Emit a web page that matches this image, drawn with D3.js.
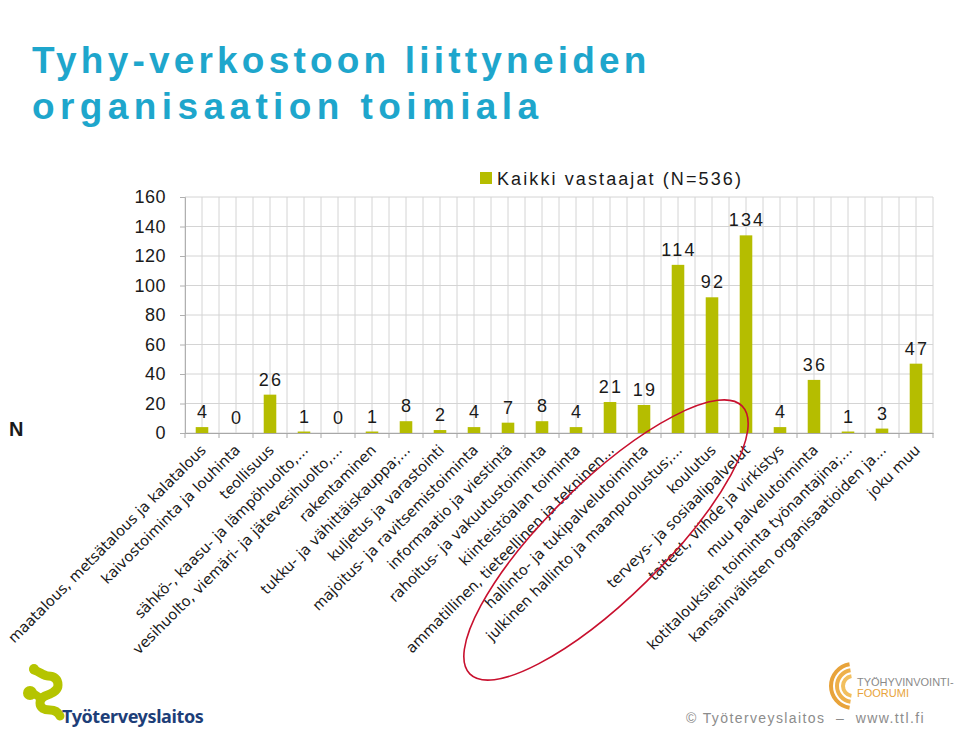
<!DOCTYPE html>
<html>
<head>
<meta charset="utf-8">
<script src="https://cdn.jsdelivr.net/npm/d3@7/dist/d3.min.js"></script>
<style>
  html, body { margin: 0; padding: 0; background: #ffffff; }
  svg { display: block; }
</style>
</head>
<body>
<svg id="chart" width="960" height="730"></svg>
<script>
const categories = [
  "maatalous, metsätalous ja kalatalous",
  "kaivostoiminta ja louhinta",
  "teollisuus",
  "sähkö-, kaasu- ja lämpöhuolto,...",
  "vesihuolto, viemäri- ja jätevesihuolto,...",
  "rakentaminen",
  "tukku- ja vähittäiskauppa;...",
  "kuljetus ja varastointi",
  "majoitus- ja ravitsemistoiminta",
  "informaatio ja viestintä",
  "rahoitus- ja vakuutustoiminta",
  "kiinteistöalan toiminta",
  "ammatillinen, tieteellinen ja tekninen...",
  "hallinto- ja tukipalvelutoiminta",
  "julkinen hallinto ja maanpuolustus;...",
  "koulutus",
  "terveys- ja sosiaalipalvelut",
  "taiteet, viihde ja virkistys",
  "muu palvelutoiminta",
  "kotitalouksien toiminta työnantajina;...",
  "kansainvälisten organisaatioiden ja...",
  "joku muu"
];
const values = [4, 0, 26, 1, 0, 1, 8, 2, 4, 7, 8, 4, 21, 19, 114, 92, 134, 4, 36, 1, 3, 47];
const yTicks = [0, 20, 40, 60, 80, 100, 120, 140, 160];
const seriesName = "Kaikki vastaajat (N=536)";
const titleLines = ["Tyhy-verkostoon liittyneiden", "organisaation toimiala"];
const yAxisTitle = "N";
const footerText = "© Työterveyslaitos  –  www.ttl.fi";

const svg = d3.select("#chart");
const barColor = "#b5bd00";
const gridColor = "#d4d4d4";

const pLeft = 185, pRight = 933, pTop = 197, pBottom = 433;

const x = d3.scaleBand().domain(categories).range([pLeft, pRight])
  .paddingInner(0.63).paddingOuter(0.315);
const y = d3.scaleLinear().domain([0, 160]).range([pBottom, pTop]);

// Title
const titleSpacing = [4.2, 5.4];
titleLines.forEach((t, i) => {
  svg.append("text")
    .attr("x", 32).attr("y", 73 + i * 46)
    .attr("font-family", "Liberation Sans, Arial, sans-serif")
    .attr("font-weight", "bold")
    .attr("font-size", 37)
    .attr("letter-spacing", titleSpacing[i])
    .attr("fill", "#1ea6cc")
    .text(t);
});

// Grid: horizontal
svg.append("g").selectAll("line").data(yTicks).join("line")
  .attr("x1", pLeft).attr("x2", pRight)
  .attr("y1", d => y(d)).attr("y2", d => y(d))
  .attr("stroke", gridColor).attr("stroke-width", 1);

// Grid: vertical at band boundaries and centers
const step = x.step();
const boundaries = categories.map(c => x(c) + x.bandwidth() / 2 - step / 2);
boundaries.push(pRight);
const centers = categories.map(c => x(c) + x.bandwidth() / 2);
svg.append("g").selectAll("line").data(boundaries.concat(centers)).join("line")
  .attr("x1", d => d).attr("x2", d => d)
  .attr("y1", pTop).attr("y2", pBottom)
  .attr("stroke", gridColor).attr("stroke-width", 1);

// Y axis
const yAxis = d3.axisLeft(y).tickValues(yTicks).tickSize(5).tickPadding(14);
const yg = svg.append("g").attr("transform", `translate(${pLeft},0)`).call(yAxis);
yg.select(".domain").attr("stroke", "#b0b0b0");
yg.selectAll(".tick line").attr("stroke", "#b0b0b0");
yg.selectAll(".tick text")
  .attr("font-family", "Liberation Sans, Arial, sans-serif")
  .attr("font-size", 18)
  .attr("letter-spacing", 0.5)
  .attr("fill", "#1a1a1a");

// X axis
const xAxis = d3.axisBottom(x).tickSize(0).tickFormat("");
const xg = svg.append("g").attr("transform", `translate(0,${pBottom})`).call(xAxis);
xg.select(".domain").attr("stroke", "#a8a8a8");
svg.append("g").selectAll("line").data(boundaries).join("line")
  .attr("x1", d => d).attr("x2", d => d)
  .attr("y1", pBottom).attr("y2", pBottom + 5)
  .attr("stroke", "#a8a8a8");

// Bars
svg.append("g").selectAll("rect").data(values).join("rect")
  .attr("x", (d, i) => x(categories[i]))
  .attr("width", x.bandwidth())
  .attr("y", d => y(d))
  .attr("height", d => y(0) - y(d))
  .attr("fill", barColor);

// Value labels
svg.append("g").selectAll("text").data(values).join("text")
  .attr("x", (d, i) => x(categories[i]) + x.bandwidth() / 2 + 1)
  .attr("y", d => y(d) - 9)
  .attr("text-anchor", "middle")
  .attr("font-family", "Liberation Sans Narrow, Liberation Sans, Arial, sans-serif")
  .attr("font-size", 18)
  .attr("letter-spacing", 2.2)
  .attr("fill", "#1a1a1a")
  .text(d => d);

// X labels (rotated)
svg.append("g").selectAll("text").data(categories).join("text")
  .attr("transform", d => `translate(${x(d) + x.bandwidth() / 2 + 5},${pBottom + 18}) rotate(-45)`)
  .attr("text-anchor", "end")
  .attr("font-family", "DejaVu Sans, Verdana, sans-serif")
  .attr("font-size", 14.6)
  .attr("fill", "#1a1a1a")
  .text(d => d);

// Y axis title
svg.append("text")
  .attr("x", 9).attr("y", 436)
  .attr("font-family", "Liberation Sans, Arial, sans-serif")
  .attr("font-weight", "bold").attr("font-size", 20)
  .attr("fill", "#1a1a1a")
  .text(yAxisTitle);

// Legend
const lg = svg.append("g").attr("transform", "translate(480,172)");
lg.append("rect").attr("width", 12).attr("height", 12).attr("fill", barColor);
lg.append("text").attr("x", 17).attr("y", 13)
  .attr("font-family", "Liberation Sans Narrow, Liberation Sans, Arial, sans-serif")
  .attr("font-size", 18).attr("letter-spacing", 2.1)
  .attr("fill", "#1a1a1a")
  .text(seriesName);

// Red hand-drawn ellipse
svg.append("ellipse")
  .attr("cx", 0).attr("cy", 0).attr("rx", 191).attr("ry", 58)
  .attr("transform", "translate(606,540) rotate(-44.5)")
  .attr("fill", "none").attr("stroke", "#c8102e").attr("stroke-width", 1.6);

// Logo left (Työterveyslaitos)
const lc = "#b5c400";
const logo = svg.append("g");
logo.append("circle").attr("cx", 34).attr("cy", 669).attr("r", 5).attr("fill", lc);
logo.append("path").attr("d", "M34,670 C40,672 44,676 48,676 C54,676 58,679 58,685 C58,690 54,692 50,694 C44,696 40,698 40,703 C40,708 44,710 50,710 C55,710 58,712 60,716")
  .attr("fill", "none").attr("stroke", lc).attr("stroke-width", 9).attr("stroke-linecap", "round");
logo.append("circle").attr("cx", 30).attr("cy", 693).attr("r", 7).attr("fill", lc);
logo.append("path").attr("d", "M30,693 C35,693 38,696 41,699").attr("fill", "none").attr("stroke", lc).attr("stroke-width", 8);
logo.append("text").attr("x", 62).attr("y", 723)
  .attr("font-family", "Noto Sans, DejaVu Sans, sans-serif")
  .attr("font-weight", "bold").attr("font-size", 18)
  .attr("letter-spacing", -0.4)
  .attr("fill", "#1d3e78")
  .text("Työterveyslaitos");

// Logo right (Työhyvinvointi-foorumi)
const rl = svg.append("g");
[[24, "#e8a33a"], [18, "#eeb04a"], [12, "#f2bf5e"]].forEach(([r, c]) => {
  rl.append("path")
    .attr("d", d3.arc()({innerRadius: r - 4, outerRadius: r, startAngle: -Math.PI * 0.05, endAngle: -Math.PI * 0.95}))
    .attr("transform", "translate(853,686)")
    .attr("fill", c);
});
rl.append("text").attr("x", 857).attr("y", 686)
  .attr("font-family", "Liberation Sans, Arial, sans-serif")
  .attr("font-size", 11).attr("fill", "#8a8a8a")
  .text("TYÖHYVINVOINTI-");
rl.append("text").attr("x", 857).attr("y", 697)
  .attr("font-family", "Liberation Sans, Arial, sans-serif")
  .attr("font-size", 11).attr("fill", "#e8a33a")
  .text("FOORUMI");

// Footer
svg.append("text").attr("x", 925).attr("y", 723)
  .attr("text-anchor", "end")
  .style("white-space", "pre")
  .attr("font-family", "Liberation Sans, Arial, sans-serif")
  .attr("font-size", 14).attr("letter-spacing", 1.4)
  .attr("fill", "#8c8c8c")
  .text(footerText);
</script>
</body>
</html>
